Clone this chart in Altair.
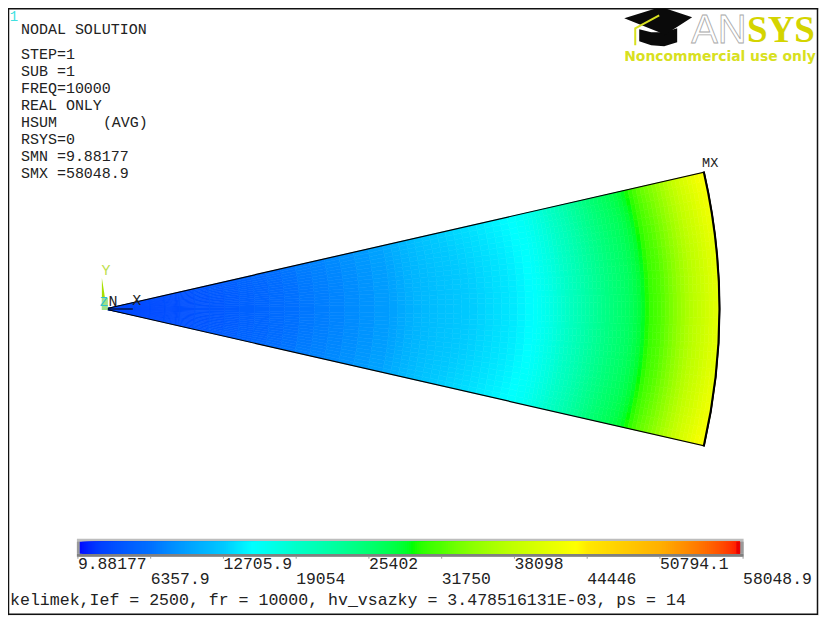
import altair as alt
import pandas as pd

W, H = 812, 608
OX, OY = 8, 8
FONT = "Liberation Mono"

# --- contour colour ramp (value -> colour)
ramp_values = [0, 700, 1914, 6264, 12615, 15138, 19000, 25300, 29145, 31668,
               37932, 43413, 44400, 50700, 57300, 57400, 58049]
ramp_colors = ["#0000ff", "#0020ff", "#0040ff", "#0070ff", "#00c8ff", "#00ffff",
               "#00ffc8", "#00ff70", "#00ff00", "#50ff00", "#c0ff00", "#ffff00",
               "#ffe800", "#ffb000", "#ff2000", "#e80000", "#e80000"]

# --- HSUM read along the sector axis: outer radius of each ring, and value
ring_outer = [15, 30, 45, 60, 75, 90, 105, 120, 135, 150, 165, 180, 195, 210,
              225, 240, 255, 270, 285,
              293, 301, 309, 317, 325, 333, 341, 349, 357, 365, 373, 381, 389,
              397, 405, 413, 421, 429,
              433, 437, 441, 445, 449, 453, 457, 461, 465, 469, 473, 477, 481,
              485, 489, 493, 497, 501, 505, 509, 513, 517, 521, 525, 529, 533,
              537, 541, 545, 549, 553, 557, 561, 565, 569, 573, 577, 581, 585,
              589, 593, 597, 601, 605, 609, 613, 615.4]
ring_value = [2500, 2600, 2700, 2800, 2950, 3200, 3500, 3900, 4300, 4800, 5200,
              5700, 6200, 6700, 7100, 7500, 8000, 8500, 9100,
              9600, 10100, 10600, 11000, 11400, 11700, 12000, 12200, 12450,
              12650, 12850, 13100, 13350, 13600, 13850, 14150, 14550, 15000,
              15400, 15800, 16250, 16700, 17100, 17600, 18100, 18600, 19150,
              19700, 20250, 20800, 21350, 21900, 22400, 22900, 23350, 23800,
              24200, 24600, 24950, 25300, 25650, 26050, 26550, 27150, 27800,
              28600, 29500, 30400, 30900, 31400, 32000, 32650, 33350, 34100,
              34850, 35600, 36350, 37050, 37650, 38150, 38750, 39350, 39950,
              40450, 40800]

# --- the field rises slightly towards the straight edges
wedge_edges = [0, 0.8, 1.6, 2.4, 3.2, 4, 4.8, 5.6, 6.4, 7.2, 8, 8.8, 9.6, 10.4,
               11.2, 12, 12.857]
wedge_gain = [1.0, 1.0005, 1.001, 1.002, 1.004, 1.006, 1.009, 1.012, 1.016, 1.02,
              1.025, 1.03, 1.036, 1.042, 1.049, 1.056]

# --- legend
tick_values = [9.88177, 6357.9, 12705.9, 19054, 25402, 31750, 38098, 44446, 50794.1, 58048.9]
tick_labels = ["9.88177", "6357.9", "12705.9", "19054", "25402", "31750", "38098", "44446", "50794.1", "58048.9"]

# --- text block
info_lines = ["NODAL SOLUTION", "STEP=1", "SUB =1", "FREQ=10000", "REAL ONLY", "HSUM",
              "RSYS=0", "SMN =9.88177", "SMX =58048.9"]
info_rows = [29, 54, 71, 88, 105, 122, 139, 156, 173]
caption = "kelimek,Ief = 2500, fr = 10000, hv_vsazky = 3.478516131E-03, ps = 14"

APEX = (105, 309)
R = ring_outer[-1]

px = lambda: alt.Scale(domain=[OX, OX + W], range=[0, W])
py = lambda: alt.Scale(domain=[OY, OY + H], range=[0, H])
X = lambda f="x": alt.X(f"{f}:Q", scale=px(), axis=None)
Y = lambda f="y": alt.Y(f"{f}:Q", scale=py(), axis=None)
color_scale = alt.Scale(domain=ramp_values, range=ramp_colors, clamp=True)
theta_scale = alt.Scale(domain=[0, 360], range=[0, 6.283185307])
radius_scale = alt.Scale(type="linear", domain=[0, R], range=[0, R])


def label(rows, size, color="#222222", font=FONT, weight="normal", align="left", **kw):
    return alt.Chart(pd.DataFrame(rows)).mark_text(
        font=font, fontSize=size, color=color, fontWeight=weight, align=align, baseline="middle", **kw
    ).encode(x=X(), y=Y(), text="t:N")


def polygon(xs, top, bottom, color):
    return alt.Chart(pd.DataFrame({"x": xs, "y": top, "y2": bottom})).mark_area(
        color=color, interpolate="linear"
    ).encode(x=X(), y=Y(), y2="y2:Q")


def box(x, x2, y, y2, **kw):
    return alt.Chart(pd.DataFrame({"x": [x], "x2": [x2], "y": [y], "y2": [y2]})).mark_rect(**kw).encode(
        x=X(), x2="x2:Q", y=Y(), y2="y2:Q"
    )


# sector cells
cells = []
inner = 0
for outer, v in zip(ring_outer, ring_value):
    for i, g in enumerate(wedge_gain):
        a, b = wedge_edges[i], wedge_edges[i + 1]
        for t0, t1 in ((90 - b, 90 - a), (90 + a, 90 + b)):
            cells.append({"r0": inner, "r1": outer, "t0": t0, "t1": t1, "v": v * g,
                          "x": APEX[0], "y": APEX[1]})
    inner = outer
cells = pd.DataFrame(cells)

arc_enc = dict(
    x=X(), y=Y(),
    theta=alt.Theta("t0:Q", scale=theta_scale, stack=None),
    theta2="t1:Q",
    radius=alt.Radius("r0:Q", scale=radius_scale),
    radius2="r1:Q",
)
sector = alt.Chart(cells).mark_arc(strokeWidth=0.6).encode(
    color=alt.Color("v:Q", scale=color_scale, legend=None),
    stroke=alt.Stroke("v:Q", scale=color_scale, legend=None),
    **arc_enc,
)
half = wedge_edges[-1]
outline_df = pd.DataFrame({"r0": [0], "r1": [R], "t0": [90 - half], "t1": [90 + half],
                           "x": [APEX[0]], "y": [APEX[1]]})
outline = alt.Chart(outline_df).mark_arc(filled=False, fill=None, stroke="#000000", strokeWidth=1.2).encode(**arc_enc)
rim_df = outline_df.assign(r0=R - 0.5)
rim = alt.Chart(rim_df).mark_arc(filled=False, fill=None, stroke="#000000", strokeWidth=1.6).encode(**arc_enc)

# legend bar (x position through a value scale)
vx = alt.Scale(domain=[tick_values[0], tick_values[-1]], range=[78 - OX, 744 - OX])
bar_bg = box(77, 744.5, 539, 557, color="#bdbdbd")
bar_low = box(77, 744.5, 554, 557, color="#808080")
bar_right = box(741, 744.5, 542, 554, color="#9a9a9a")
bar_left = box(77, 80, 542, 554, color="#9a9a9a")
ramp_df = pd.DataFrame({"v": list(range(170, 57950, 170))})
ramp_df["end"] = 57750
ramp_df["y"] = 542
ramp_df["y2"] = 554
ramp_mark = alt.Chart(ramp_df).mark_rect().encode(
    x=alt.X("v:Q", scale=vx, axis=None), x2="end:Q", y=Y(), y2="y2:Q",
    color=alt.Color("v:Q", scale=color_scale, legend=None),
)
tick_df = pd.DataFrame({"v": tick_values, "t": tick_labels, "y": 557, "y2": 559,
                        "row": [564 if i % 2 == 0 else 579 for i in range(len(tick_values))]})
ticks = alt.Chart(tick_df).mark_rule(color="#999999", strokeWidth=1).encode(
    x=alt.X("v:Q", scale=vx, axis=None), y=Y(), y2="y2:Q")
tick_text = alt.Chart(tick_df).mark_text(font=FONT, fontSize=16.4, color="#222222", align="left",
                                         baseline="middle").encode(
    x=alt.X("v:Q", scale=vx, axis=None), y=Y("row"), text="t:N")

frame = box(8.5, 818.5, 8.5, 614.5, fill="#ffffff", stroke="#111111", strokeWidth=1.5)

# triad
triad_y = polygon([102, 107], [278, 310], [310, 310], "#a8e000")
triad_box = box(102, 108, 298, 310, color="#9fe08a")
triad_x = alt.Chart(pd.DataFrame({"x": [108], "x2": [133], "y": [309]})).mark_rule(color="#000000").encode(
    x=X(), x2="x2:Q", y=Y())

# logo
cap_base = polygon([640, 652, 665, 678], [29, 32, 32, 28], [41, 45, 46, 42], "#0a0a0a")
cap_top = polygon([625, 660, 665, 693], [18, 7, 7.6, 17], [18, 32, 35, 17], "#0a0a0a")
tassel = alt.Chart(pd.DataFrame({"x": [660, 636, 636], "y": [15, 28, 45], "o": [0, 1, 2]})).mark_line(
    color="#d8e020", strokeWidth=2).encode(x=X(), y=Y(), order="o:Q")

chart = alt.layer(
    frame,
    sector, outline, rim,
    triad_y, triad_box, triad_x,
    label([{"x": 106, "y": 270, "t": "Y"}], 15, color="#c0e050", align="center"),
    label([{"x": 104, "y": 302, "t": "Z"}], 13, color="#30c0d0", align="center"),
    label([{"x": 113, "y": 301, "t": "N"}, {"x": 137, "y": 300, "t": "X"}], 15, align="center"),
    label([{"x": 711, "y": 163, "t": "MX"}], 13.5, align="center"),
    label([{"x": 14, "y": 17, "t": "1"}], 14, color="#40e0e0", align="center"),
    label([{"x": 21, "y": r, "t": t} for t, r in zip(info_lines, info_rows)] +
          [{"x": 103, "y": 122, "t": "(AVG)"}], 15),
    bar_bg, bar_low, bar_left, bar_right, ramp_mark, ticks, tick_text,
    label([{"x": 10, "y": 600, "t": caption}], 16.6),
    cap_base, cap_top, tassel,
    label([{"x": 692, "y": 31, "t": "AN"}], 40, font="Liberation Sans", color="#ffffff",
          stroke="#a8a8a8", strokeWidth=0.8),
    label([{"x": 748, "y": 31, "t": "SYS"}], 37, font="Liberation Serif", weight="bold",
          color="#d4d400"),
    label([{"x": 625, "y": 57, "t": "Noncommercial use only"}], 13.9, font="DejaVu Sans", weight="bold",
          color="#d8e020"),
).resolve_scale(x="independent").properties(
    width=W, height=H, padding=0, autosize=alt.AutoSizeParams(type="none")
).configure_view(stroke=None).configure(background="#ffffff")

chart.save("out.html", embed_options={"renderer": "svg", "actions": False})
